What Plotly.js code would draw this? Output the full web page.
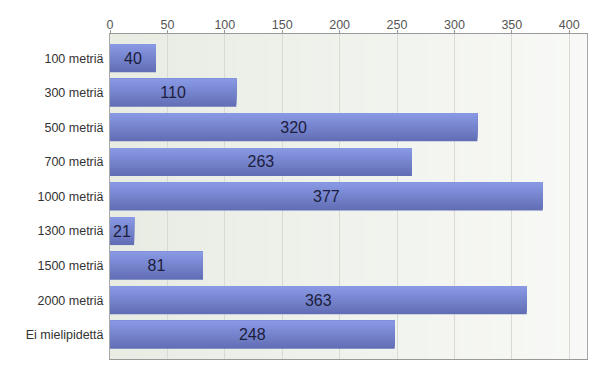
<!DOCTYPE html>
<html>
<head>
<meta charset="utf-8">
<script src="https://cdn.plot.ly/plotly-3.0.1.min.js"></script>
<style>html,body{margin:0;padding:0;background:#fff;}#chart{width:602px;height:375px;}</style>
</head>
<body>
<div id="chart"></div>
<script>
const categories = ["100 metriä", "300 metriä", "500 metriä", "700 metriä", "1000 metriä", "1300 metriä", "1500 metriä", "2000 metriä", "Ei mielipidettä"];
const values = [40, 110, 320, 263, 377, 21, 81, 363, 248];
const tickValues = [0, 50, 100, 150, 200, 250, 300, 350, 400];

const BAR_W = 0.81;
const LAYERS = 14;
const barTop = [0x88, 0x98, 0xe3];
const barBot = [0x62, 0x6f, 0xb6];
function mix(t) {
  const c = barTop.map((v, i) => Math.round(barBot[i] + (v - barBot[i]) * t));
  return 'rgb(' + c.join(',') + ')';
}
const traces = [];
for (let i = 0; i < LAYERS; i++) {
  const frac = 1 - i / LAYERS;
  const t = i / (LAYERS - 1);
  traces.push({
    type: 'bar', orientation: 'h',
    x: values, y: categories,
    width: BAR_W * frac,
    offset: -BAR_W / 2,
    marker: {color: mix(t), line: {width: 0}},
    hoverinfo: 'skip',
    showlegend: false
  });
}
traces.push({
  type: 'bar', orientation: 'h',
  x: values, y: categories,
  width: BAR_W, offset: -BAR_W / 2,
  marker: {color: 'rgba(0,0,0,0)', line: {width: 0}},
  text: values.map(String),
  textposition: 'inside',
  insidetextanchor: 'middle',
  textfont: {family: 'Liberation Sans, Arial, sans-serif', size: 16, color: '#1c1d3d'},
  hoverinfo: 'x+y',
  showlegend: false
});

const shapes = [];
const N = 30;
const bgL = [0xe8, 0xec, 0xe3], bgR = [0xf8, 0xf9, 0xf6];
for (let i = 0; i < N; i++) {
  const t = i / (N - 1);
  const c = bgL.map((v, k) => Math.round(v + (bgR[k] - v) * t));
  shapes.push({type: 'rect', xref: 'paper', yref: 'paper', x0: i / N, x1: (i + 1) / N + 0.002, y0: 0, y1: 1,
    fillcolor: 'rgb(' + c.join(',') + ')', line: {width: 0}, layer: 'below'});
}

const layout = {
  width: 602, height: 375,
  margin: {l: 110, r: 15, t: 34, b: 16},
  paper_bgcolor: '#ffffff',
  plot_bgcolor: 'rgba(0,0,0,0)',
  barmode: 'overlay',
  uniformtext: {minsize: 16, mode: 'show'},
  shapes: shapes,
  font: {family: 'Liberation Sans, Arial, sans-serif', size: 12, color: '#333'},
  xaxis: {
    side: 'top', range: [0, 415.5], tickvals: tickValues,
    showgrid: true, gridcolor: '#d8dad4', gridwidth: 1,
    zeroline: false,
    showline: true, linecolor: '#999999', linewidth: 1, mirror: true,
    ticks: 'outside', ticklen: 3, tickcolor: '#999', ticklabelstandoff: -4,
    tickfont: {size: 12.5, color: '#555'}
  },
  yaxis: {
    type: 'category', range: [8.7, -0.7],
    showgrid: false, zeroline: false,
    showline: true, linecolor: '#a8a8a8', linewidth: 1, mirror: true,
    ticks: '', ticklabelstandoff: 3,
    tickfont: {size: 12.5, color: '#333'}
  }
};
Plotly.newPlot('chart', traces, layout, {staticPlot: true, displayModeBar: false});
</script>
</body>
</html>
